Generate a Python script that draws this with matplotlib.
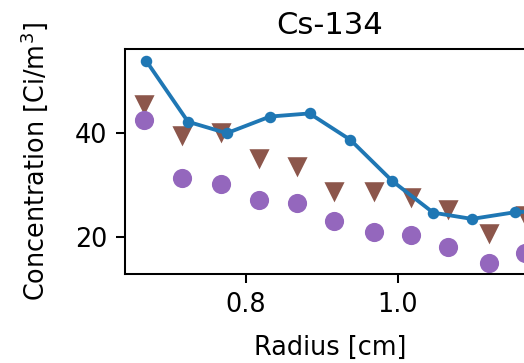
import matplotlib
matplotlib.use('Agg')
import matplotlib.pyplot as plt

# values
radius_line = [0.669, 0.724, 0.775, 0.832, 0.884, 0.938, 0.993, 1.047, 1.098, 1.155, 1.21]
conc_line = [53.8, 42.1, 39.9, 43.1, 43.7, 38.6, 30.7, 24.6, 23.4, 24.7, 25.0]

radius_pts = [0.666, 0.716, 0.768, 0.818, 0.867, 0.916, 0.969, 1.018, 1.067, 1.12, 1.168, 1.22]
conc_tri = [45.5, 39.5, 40.2, 35.1, 33.5, 28.8, 28.8, 27.7, 25.3, 20.7, 24.2, 24.0]
conc_dot = [42.4, 31.2, 30.1, 27.1, 26.5, 23.0, 20.8, 20.4, 17.9, 14.9, 16.9, 16.5]

dpi = 184
fig = plt.figure(figsize=(524 / dpi, 363 / dpi), dpi=dpi)
ax = fig.add_axes([125 / 524, 89 / 363, 410 / 524, 225 / 363])

ax.plot(radius_pts, conc_tri, 'v', color='C5', markersize=6.5, linestyle='none')
ax.plot(radius_pts, conc_dot, 'o', color='C4', markersize=6.5, linestyle='none')
ax.plot(radius_line, conc_line, '-o', color='C0', markersize=3.5, linewidth=1.5)

ax.set_xlim(0.641, 1.181)
ax.set_ylim(12.8, 56.1)
ax.set_xticks([0.8, 1.0])
ax.set_yticks([20, 40])
ax.set_xlabel('Radius [cm]', labelpad=6.5)
ax.set_ylabel('Concentration [Ci/m$^3$]', labelpad=9.5)
ax.set_title('Cs-134')

fig.savefig('out.png', dpi=dpi)
